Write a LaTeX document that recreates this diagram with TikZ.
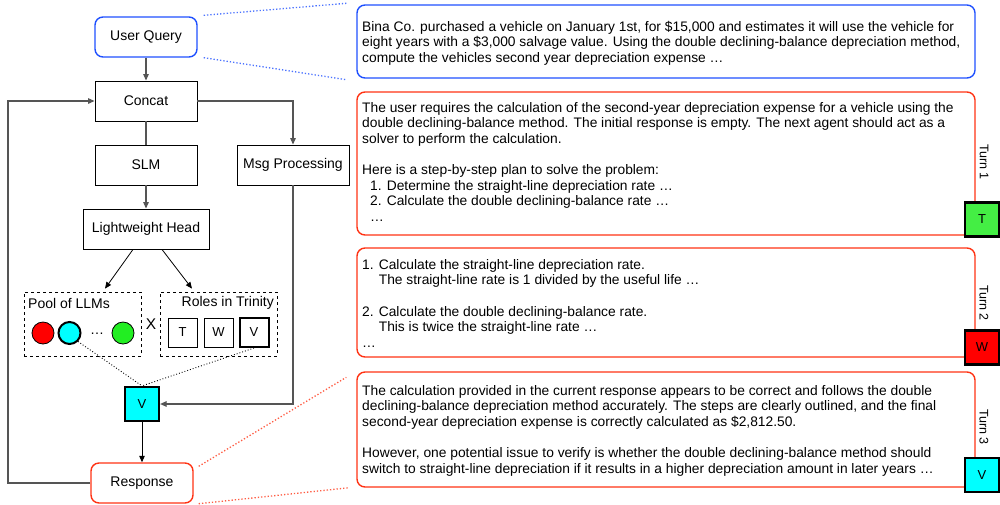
\documentclass[tikz,border=0pt]{standalone}
\usepackage{fontspec}
\setmainfont{Liberation Sans}
\usetikzlibrary{arrows.meta}
\definecolor{qblue}{HTML}{1F50FF}
\definecolor{rred}{HTML}{FF3314}
\definecolor{tgreen}{HTML}{44EE44}
\definecolor{cgreen}{HTML}{22EE22}
\definecolor{pcyan}{HTML}{00FFFF}
\definecolor{pred}{HTML}{FF0000}
\definecolor{cgray}{HTML}{555555}
\begin{document}
\begin{tikzpicture}[x=1pt,y=-1pt,
  every node/.style={inner sep=0pt, font=\fontsize{14}{16}\selectfont},
  box/.style={draw=black, line width=0.9pt, minimum height=40pt},
  rbox/.style={draw=#1, line width=1.4pt, rounded corners=8pt},
  dbox/.style={draw=black, dashed, line width=0.8pt, minimum width=117pt, minimum height=64pt},
  rolebox/.style={draw=black, line width=0.8pt, minimum size=29pt, font=\fontsize{13}{15}\selectfont},
  llm/.style={circle, draw=black, line width=0.8pt, minimum size=22pt, fill=#1},
  agent/.style={draw=black, line width=2.2pt, minimum size=34pt, fill=#1, font=\fontsize{13}{15}\selectfont},
  conn/.style={draw=cgray, line width=1.2pt},
  arr/.style={-{Triangle[length=6.5pt,width=5.5pt]}},
  txt/.style={anchor=north west, align=left, font=\fontsize{13.8}{15.6}\selectfont},
  turn/.style={rotate=-90, font=\fontsize{12.5}{14}\selectfont},
  qdot/.style={draw=qblue!80, dotted, line width=1.3pt},
  rdot/.style={draw=rred!80, dotted, line width=1.3pt}
]
\useasboundingbox (0,0) rectangle (1000,504);

% left diagram
\node[rbox=qblue, minimum width=102pt, minimum height=40pt] (uq) at (146,37) {User Query};
\node[box, minimum width=102pt] (concat) at (146,101) {Concat};
\node[box, minimum width=102pt] (slm) at (146,165) {SLM};
\node[box, minimum width=112pt] (msg) at (293,165) {Msg Processing};
\node[box, minimum width=126pt] (lh) at (146,229) {Lightweight Head};
\node[dbox] (pool) at (82.5,324) {};
\node[dbox] (roles) at (218.5,324) {};
\node[anchor=west] (poollab) at (28,303) {Pool of LLMs};
\node[anchor=east] (roleslab) at (274,303) {Roles in Trinity};
\node[llm=pred] (c1) at (43,333) {};
\node[llm=pcyan, line width=2pt] (c2) at (69.5,333) {};
\node (dots) at (97,334) {…};
\node[llm=cgreen] (c3) at (123,333) {};
\node[font=\fontsize{15.5}{17}\selectfont] (xx) at (151,324) {X};
\node[rolebox] (rt) at (182.5,332.5) {T};
\node[rolebox] (rw) at (218.5,332.5) {W};
\node[rolebox, line width=2pt] (rv) at (254,332.5) {V};
\node[agent=pcyan] (av) at (142,404) {V};
\node[rbox=rred, minimum width=102pt, minimum height=40pt] (resp) at (142,483) {Response};
\coordinate (loop) at (8,483);

\draw[conn,arr] (uq) -- (concat);
\draw[conn] (concat) -- (slm);
\draw[conn,arr] (slm) -- (lh);
\draw[black, line width=0.8pt, arr] ([xshift=-13pt]lh.south) -- ([xshift=22.5pt,yshift=3pt]pool.north);
\draw[black, line width=0.8pt, arr] ([xshift=16pt]lh.south) -- ([xshift=-26.5pt,yshift=3pt]roles.north);
\draw[conn,arr] (concat.east) -| (msg.north);
\draw[conn,arr] (msg.south) |- (av.east);
\draw[black, line width=1pt, arr] (av) -- (resp);
\draw[conn,arr] (resp.west) -- (loop) |- (concat.west);
\draw[black, dotted, line width=0.9pt] (c2.south east) -- (av.north);
\draw[black, dotted, line width=0.9pt] (rv.south) -- (av.north);

% right panels
\node[rbox=qblue, minimum width=618pt, minimum height=73pt] (q) at (666,41.5) {};
\node[rbox=rred, minimum width=618pt, minimum height=143pt] (t1) at (666,163.5) {};
\node[rbox=rred, minimum width=618pt, minimum height=109pt] (t2) at (666,302.5) {};
\node[rbox=rred, minimum width=618pt, minimum height=115pt] (t3) at (666,429.5) {};

\node[txt] (qt) at (362,20.1) {\strut Bina Co. purchased a vehicle on January 1st, for \$15,000 and estimates it will use the vehicle for\\
eight years with a \$3,000 salvage value. Using the double declining-balance depreciation method,\\
compute the vehicles second year depreciation expense …};

\node[txt] (t1t) at (362,101.1) {\strut The user requires the calculation of the second-year depreciation expense for a vehicle using the\\
double declining-balance method. The initial response is empty. The next agent should act as a\\
solver to perform the calculation.\\[15.6pt]
Here is a step-by-step plan to solve the problem:\\
\hspace{8pt}1. Determine the straight-line depreciation rate …\\
\hspace{8pt}2. Calculate the double declining-balance rate …\\
\hspace{8pt}…};

\node[txt] (t2t) at (362,258.1) {\strut 1. Calculate the straight-line depreciation rate.\\
\phantom{1. }The straight-line rate is 1 divided by the useful life …\\[15.6pt]
2. Calculate the double declining-balance rate.\\
\phantom{2. }This is twice the straight-line rate …\\
…};

\node[txt] (t3t) at (362,384.1) {\strut The calculation provided in the current response appears to be correct and follows the double\\
declining-balance depreciation method accurately. The steps are clearly outlined, and the final\\
second-year depreciation expense is correctly calculated as \$2,812.50.\\[15.6pt]
However, one potential issue to verify is whether the double declining-balance method should\\
switch to straight-line depreciation if it results in a higher depreciation amount in later years …};

\node[turn] (turn1) at (984,162) {Turn 1};
\node[turn] (turn2) at (984,303) {Turn 2};
\node[turn] (turn3) at (984,427) {Turn 3};
\node[agent=tgreen] (st) at (982,219.5) {T};
\node[agent=pred] (sw) at (982,347.5) {W};
\node[agent=pcyan] (sv) at (982,475) {V};

% zoom connectors
\draw[qdot] ([xshift=6pt,yshift=1pt]uq.north east) -- ([xshift=-10pt,yshift=1pt]q.north west);
\draw[qdot] ([xshift=6pt]uq.south east) -- ([xshift=-10pt,yshift=-1pt]q.south west);
\draw[rdot] ([xshift=5pt,yshift=-4pt]resp.north east) -- ([xshift=-10pt,yshift=-6pt]t3.north west);
\draw[rdot] ([xshift=5pt]resp.south east) -- ([xshift=-7pt]t3.south west);
\end{tikzpicture}
\end{document}
